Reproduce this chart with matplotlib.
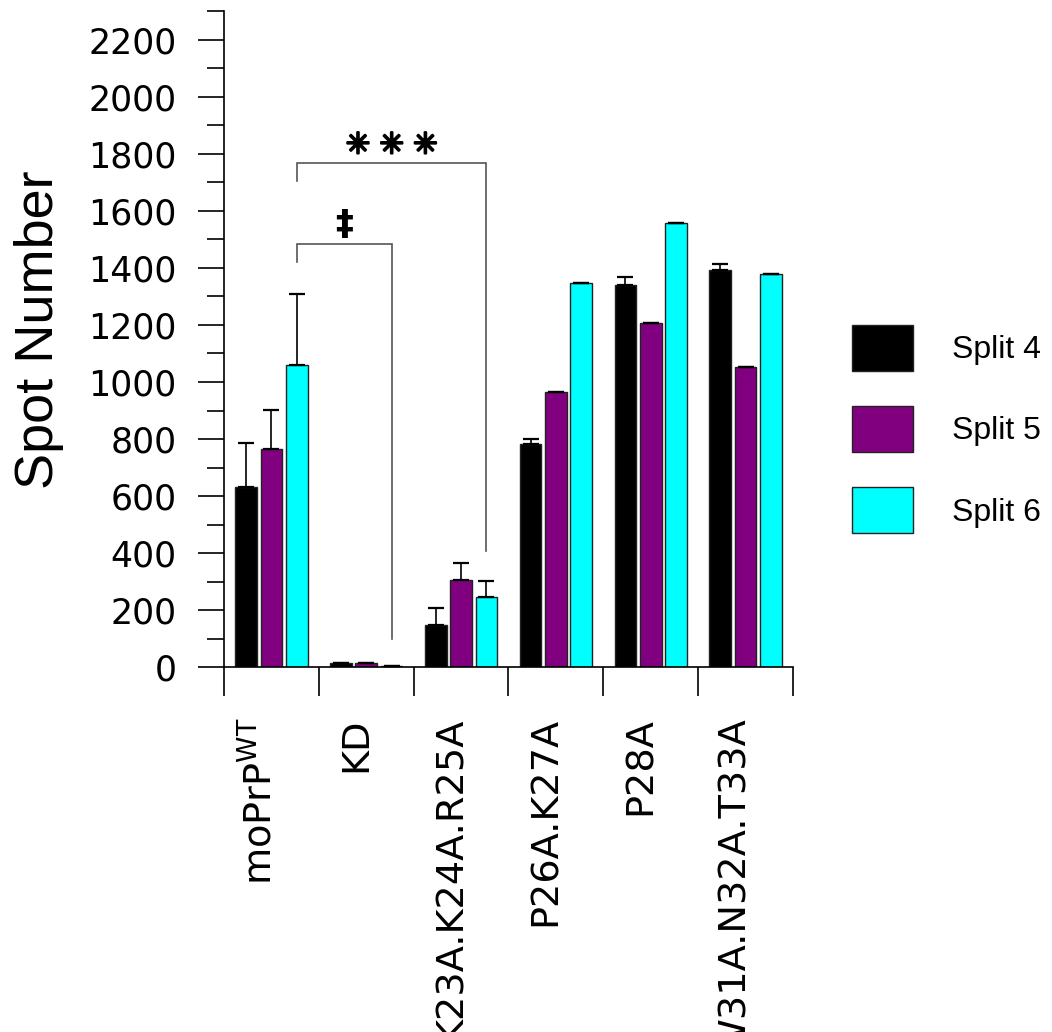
import numpy as np
import matplotlib
matplotlib.use("Agg")
import matplotlib.pyplot as plt
import matplotlib.patheffects as pe


# =========================================================
# DATA
# =========================================================

CATEGORIES = [r"moPrP$^{\mathregular{WT}}$", "KD", "K23A.K24A.R25A",
              "P26A.K27A", "P28A", "W31A.N32A.T33A"]

SERIES = ["Split 4", "Split 5", "Split 6"]
COLORS = ["#000000", "#800080", "#00ffff"]

SPLIT4 = [630, 15, 149, 781, 1339, 1393]
SPLIT5 = [765, 15, 304, 966, 1208, 1054]
SPLIT6 = [1061, 5, 247, 1349, 1559, 1378]

SPLIT4_ERR = [157, 0, 57, 18, 29, 22]
SPLIT5_ERR = [137, 0, 60, 0, 0, 0]
SPLIT6_ERR = [249, 0, 54, 0, 0, 0]

# significance brackets: (group a, group b, bracket top, leg a bottom, leg b bottom, mark)
BRACKETS = [
    (0, 1, 1483, 1420, 100, "\u2021"),
    (0, 2, 1768, 1705, 406, "\u2733 \u2733 \u2733"),
]

YMAX = 2300


# =========================================================
# PLOT
# =========================================================

def main():
    fig = plt.figure(figsize=(10.52, 10.32), dpi=100)
    ax = fig.add_axes([224 / 1052, 1 - 667 / 1032, (793 - 224) / 1052, (667 - 11.5) / 1032])

    x = np.arange(len(CATEGORIES))
    width = 0.229
    step = 0.267
    values = [SPLIT4, SPLIT5, SPLIT6]
    errors = [SPLIT4_ERR, SPLIT5_ERR, SPLIT6_ERR]

    bars = []
    for i, (vals, errs) in enumerate(zip(values, errors)):
        pos = x + (i - 1) * step
        b = ax.bar(pos, vals, width, color=COLORS[i], edgecolor="#222222",
                   linewidth=1.0, label=SERIES[i], zorder=2)
        ax.errorbar(pos, vals, yerr=[np.zeros(len(errs)), errs], fmt="none",
                    ecolor="black", elinewidth=1.2, capsize=5.8, capthick=1.6,
                    zorder=3)
        bars.append(b)

    # brackets go between the Split 6 bars
    for ga, gb, top, bot_a, bot_b, mark in BRACKETS:
        xa = ga + step
        xb = gb + step
        ax.plot([xa, xa, xb, xb], [bot_a, top, top, bot_b], color="#555555",
                lw=1.2, zorder=1, solid_joinstyle="miter")
        if mark == "\u2021":
            ax.text((xa + xb) / 2, top + 68, mark, ha="center", va="center",
                    fontsize=26, fontweight="bold", family="DejaVu Sans")
        else:
            ax.text((xa + xb) / 2, top + 62, mark, ha="center", va="center",
                    fontsize=21, family="DejaVu Sans",
                    path_effects=[pe.withStroke(linewidth=1.6, foreground="black")])

    # axes
    ax.set_xlim(-0.5, len(CATEGORIES) - 0.5)
    ax.set_ylim(0, YMAX)
    ax.spines["top"].set_visible(False)
    ax.spines["right"].set_visible(False)
    ax.spines["left"].set_linewidth(1.2)
    ax.spines["bottom"].set_linewidth(1.2)

    ax.set_yticks(np.arange(0, 2201, 200))
    ax.set_yticks(np.arange(0, YMAX + 1, 100), minor=True)
    ax.tick_params(axis="y", which="major", direction="out", length=19,
                   width=1.2, pad=15, labelsize=25)
    ax.tick_params(axis="y", which="minor", direction="out", length=12, width=1.2)
    for lab in ax.get_yticklabels():
        lab.set_family("DejaVu Sans")

    ax.set_xticks(np.arange(-0.5, len(CATEGORIES), 1.0))
    ax.set_xticklabels([])
    ax.set_xticks(x, minor=True)
    ax.set_xticklabels(CATEGORIES, minor=True, rotation=90, fontsize=27.5,
                       family="DejaVu Sans", va="baseline", ha="right",
                       rotation_mode="anchor")
    ax.tick_params(axis="x", which="major", direction="out", length=21, width=1.2)
    ax.tick_params(axis="x", which="minor", length=0, pad=36)

    ax.set_ylabel("Spot Number", fontsize=39, family="Liberation Sans")
    ax.yaxis.set_label_coords(-0.281, 0.514)

    ax.legend(handles=bars, loc="upper left",
              bbox_to_anchor=(852 / 1052, 1 - 325 / 1032),
              bbox_transform=fig.transFigure, frameon=False,
              prop={"family": "Liberation Sans", "size": 23},
              handlelength=1.91, handleheight=1.84, labelspacing=1.10,
              handletextpad=1.22, borderpad=0, borderaxespad=0)

    fig.savefig("out.png", dpi=100)
    plt.close(fig)


if __name__ == "__main__":
    main()
